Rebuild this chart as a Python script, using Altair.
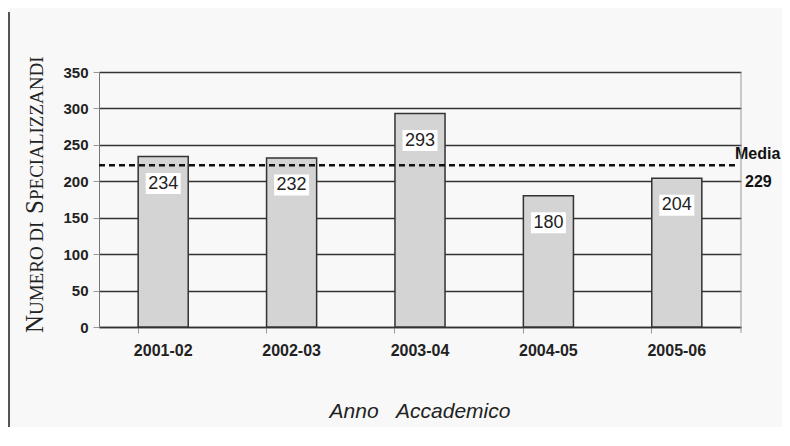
import altair as alt
import pandas as pd

anni = ["2001-02", "2002-03", "2003-04", "2004-05", "2005-06"]
specializzandi = [234, 232, 293, 180, 204]
media_linea = [222]
media_testo = ["229"]
y_ticks = [0, 50, 100, 150, 200, 250, 300, 350]

df = pd.DataFrame({"anno": anni, "n": specializzandi})
dm = pd.DataFrame({"m": media_linea, "lab": media_testo})
one = pd.DataFrame({"k": [0]})

W, H = 642, 255
SANS = "Liberation Sans"
SERIF = "Liberation Serif"

xs = alt.Scale(domain=anni, paddingInner=0.61, paddingOuter=0.305)
ys = alt.Scale(domain=[0, 350], nice=False)

x_axis = alt.Axis(title=None, labelAngle=0, labelFont=SANS, labelFontSize=16,
                  labelFontWeight="bold", labelColor="#222222", labelPadding=9,
                  tickColor="#999999", tickSize=6, bandPosition=0,
                  domainColor="#333333", domainWidth=1.5)
y_axis = alt.Axis(title=None, values=y_ticks, labelOverlap=False, labelFont=SANS,
                  labelFontSize=15, labelFontWeight="bold", labelColor="#222222",
                  labelPadding=5, tickColor="#999999", tickSize=6, grid=True,
                  gridColor="#333333", gridWidth=1.5, domainColor="#777777",
                  domainWidth=1)

X0 = alt.X("anno:N", scale=xs, sort=anni, axis=x_axis, title=None)
Y0 = alt.Y("n:Q", scale=ys, axis=y_axis, title=None)
YM = alt.Y("m:Q", scale=ys, axis=y_axis, title=None)

base = alt.Chart(df)

bars = base.mark_bar(fill="#d4d4d4", stroke="#333333", strokeWidth=1.5).encode(x=X0, y=Y0)

boxes = base.mark_point(shape="M-1.75,-1.05H1.75V1.05H-1.75Z", size=400, filled=True,
                        color="white", opacity=1, yOffset=27).encode(x=X0, y=Y0)

labels = base.mark_text(dy=27, fontSize=18, font=SANS, color="#222222",
                        baseline="middle").encode(x=X0, y=Y0, text="n:Q")

mline = alt.Chart(dm).mark_rule(color="#111111", strokeWidth=2.5, strokeDash=[6, 4]).encode(
    y=YM, x=alt.value(0), x2=alt.value(W - 6))

mtxt1 = alt.Chart(dm).mark_text(text="Media", font=SANS, fontSize=16, fontWeight="bold",
                                align="left", baseline="middle", dy=-11, color="#111111").encode(
    y=YM, x=alt.value(W - 6))
mtxt2 = alt.Chart(dm).mark_text(font=SANS, fontSize=16, fontWeight="bold",
                                align="left", baseline="middle", dy=17, color="#111111").encode(
    y=YM, x=alt.value(W + 4), text="lab:N")

right_line = alt.Chart(one).mark_rule(color="#999999", strokeWidth=1).encode(
    x=alt.value(W), y=alt.value(0), y2=alt.value(H + 6))
left_frame = alt.Chart(one).mark_rule(color="#555555", strokeWidth=2).encode(
    x=alt.value(-90), y=alt.value(-60), y2=alt.value(355))

def piece(t, y, size):
    return alt.Chart(one).mark_text(text=t, font=SERIF, fontSize=size, angle=270,
                                    align="left", baseline="alphabetic", color="#222222").encode(
        x=alt.value(-56), y=alt.value(y))

title_parts = [piece("N", 261, 25), piece("UMERO DI", 243, 19),
               piece("S", 142, 25), piece("PECIALIZZANDI", 128, 19)]

xtitle = alt.Chart(one).mark_text(text="Anno\u00a0\u00a0\u00a0Accademico", font=SANS, fontSize=21,
                                  fontStyle="italic", color="#222222", baseline="middle").encode(
    x=alt.value(W / 2), y=alt.value(340))

chart = alt.layer(bars, boxes, labels, mline, mtxt1, mtxt2, right_line, left_frame,
                  *title_parts, xtitle).properties(
    width=W, height=H, background="#f8f8f8",
    autosize=alt.AutoSizeParams(type="none"),
    padding={"left": 91, "top": 64, "right": 41, "bottom": 100},
).configure_view(stroke=None)

chart.save("out.html", embed_options={"renderer": "svg", "actions": False})
